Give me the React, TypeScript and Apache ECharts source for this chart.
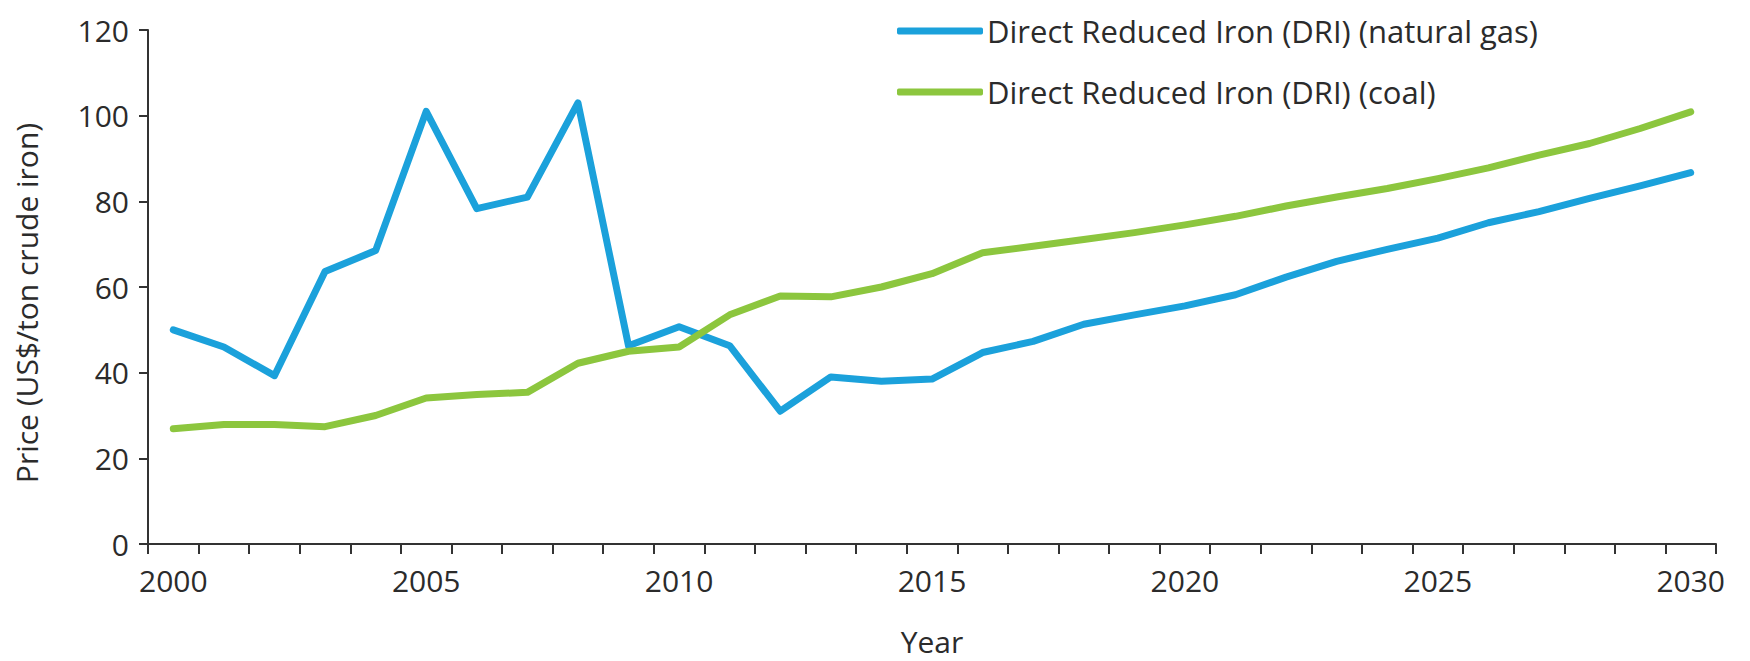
import React, { useEffect, useRef } from "react";
import * as echarts from "echarts";

const years: string[] = [];
for (let y = 2000; y <= 2030; y++) years.push(String(y));

const driNaturalGas = [
  50, 46, 39.3, 63.6, 68.5, 101, 78.3, 81, 103, 46.3,
  50.7, 46.3, 31, 39, 38, 38.5, 44.7, 47.3, 51.3, 53.5,
  55.6, 58.2, 62.3, 66, 68.8, 71.4, 75, 77.6, 80.7, 83.6,
  86.7,
];

const driCoal = [
  26.9, 27.9, 27.9, 27.4, 30, 34.1, 34.9, 35.4, 42.2, 45,
  46, 53.5, 57.9, 57.7, 60, 63.1, 68, 69.5, 71.1, 72.7,
  74.5, 76.5, 78.9, 81, 83, 85.3, 87.8, 90.8, 93.5, 97,
  100.9,
];

const yTicks = { min: 0, max: 120, interval: 20 };

const FONT = "'Open Sans', 'Noto Sans', sans-serif";
const TEXT = "#2b2b2b";
const AXIS = "#333333";
const FS = 30;

export default function App() {
  const ref = useRef<HTMLDivElement>(null);
  useEffect(() => {
    document.body.style.margin = "0";
    if (!ref.current) return;
    const chart = echarts.init(ref.current, undefined, { renderer: "svg" });
    chart.setOption({
      animation: false,
      backgroundColor: "#ffffff",
      textStyle: { fontFamily: FONT },
      grid: { left: 148, right: 34, top: 30, bottom: 112, containLabel: false },
      legend: {
        orient: "vertical",
        left: 892,
        top: 9,
        icon: "roundRect",
        itemWidth: 86,
        itemHeight: 7,
        itemGap: 27,
        textStyle: { fontFamily: FONT, fontSize: 31, color: TEXT, lineHeight: 34, padding: [0, 0, 0, -1] },
        data: ["Direct Reduced Iron (DRI) (natural gas)", "Direct Reduced Iron (DRI) (coal)"],
      },
      xAxis: {
        type: "category",
        data: years,
        boundaryGap: true,
        name: "Year",
        nameLocation: "middle",
        nameGap: 82,
        nameTextStyle: { fontFamily: FONT, fontSize: FS, color: TEXT },
        axisLine: { lineStyle: { color: AXIS, width: 2 } },
        axisTick: { show: true, length: 10, interval: 0, lineStyle: { color: AXIS, width: 2 } },
        axisLabel: {
          interval: (i: number) => i % 5 === 0,
          margin: 21,
          fontFamily: FONT,
          fontSize: FS,
          color: TEXT,
        },
        splitLine: { show: false },
      },
      yAxis: {
        type: "value",
        min: yTicks.min,
        max: yTicks.max,
        interval: yTicks.interval,
        name: "Price (US$/ton crude iron)",
        nameLocation: "middle",
        nameGap: 107,
        nameTextStyle: { fontFamily: FONT, fontSize: FS, color: TEXT, padding: [0, 32, 0, 0] },
        axisLine: { show: true, lineStyle: { color: AXIS, width: 2 } },
        axisTick: { show: true, length: 9, lineStyle: { color: AXIS, width: 2 } },
        axisLabel: { margin: 19, fontFamily: FONT, fontSize: FS, color: TEXT },
        splitLine: { show: false },
      },
      series: [
        {
          name: "Direct Reduced Iron (DRI) (natural gas)",
          type: "line",
          data: driNaturalGas,
          symbol: "none",
          lineStyle: { color: "#1ba1db", width: 7, cap: "round", join: "round" },
          itemStyle: { color: "#1ba1db" },
        },
        {
          name: "Direct Reduced Iron (DRI) (coal)",
          type: "line",
          data: driCoal,
          symbol: "none",
          lineStyle: { color: "#8cc63e", width: 7, cap: "round", join: "round" },
          itemStyle: { color: "#8cc63e" },
        },
      ],
    });
    return () => chart.dispose();
  }, []);
  return <div ref={ref} style={{ width: 1750, height: 661 }} />;
}
